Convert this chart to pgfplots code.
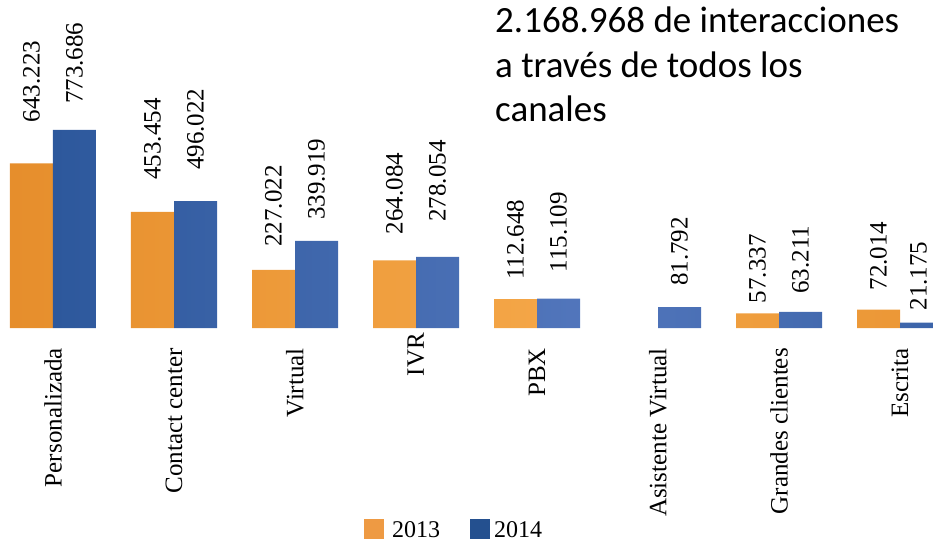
\documentclass[border=0pt]{standalone}
\usepackage{pgfplots}
\pgfplotsset{compat=1.18}
\usepackage{pgfplotstable}
\usepackage{fontspec}
\setmainfont{Liberation Serif}
\newfontfamily\calibri{Carlito}

\definecolor{oD}{HTML}{744219}
\definecolor{oQ}{HTML}{BB7027}
\definecolor{oM}{HTML}{E68E2C}
\definecolor{oL}{HTML}{F4A647}
\definecolor{oR}{HTML}{CF812C}
\definecolor{bD}{HTML}{0A2450}
\definecolor{bQ}{HTML}{1B3F7A}
\definecolor{bM}{HTML}{2D589C}
\definecolor{bL}{HTML}{5276BC}
\definecolor{bR}{HTML}{1D4584}
\definecolor{legO}{HTML}{EE9A43}
\definecolor{legB}{HTML}{24508F}

\pgfdeclarehorizontalshading{obar}{100bp}{color(0bp)=(oD); color(10bp)=(oQ); color(25bp)=(oM); color(55bp)=(oL); color(88bp)=(oM); color(100bp)=(oR)}
\pgfdeclarehorizontalshading{bbar}{100bp}{color(0bp)=(bD); color(10bp)=(bQ); color(25bp)=(bM); color(55bp)=(bL); color(88bp)=(bM); color(100bp)=(bR)}

\pgfplotstableread{
x y lab gap xs
0 643.223 643.223 41 0
1 453.454 453.454 32 0
2 227.022 227.022 23 0
3 264.084 264.084 26 0
4 112.648 112.648 19 0
6 57.337 57.337 10 0
7 72.014 72.014 19 0
}\dataA

\pgfplotstableread{
x y lab gap xs
0 773.686 773.686 26 0
1 496.022 496.022 31 0
2 339.919 339.919 21 0
3 278.054 278.054 35 0
4 115.109 115.109 26 0
5 81.792 81.792 21 0
6 63.211 63.211 18 0
7 21.175 21.175 12 -3
}\dataB

\begin{document}
\begin{tikzpicture}
\path[use as bounding box] (0bp,-214bp) rectangle (933bp,328bp);
\begin{axis}[
  at={(0bp,0bp)}, anchor=south west,
  x=121bp, y=0.256bp,
  xmin=-0.438, xmax=7.273,
  ymin=0, ymax=1281.25,
  ybar=0pt, bar width=43bp,
  axis line style={draw=none},
  tick style={draw=none},
  major tick length=0pt,
  ytick=\empty,
  xtick={0,...,7},
  xticklabels={Personalizada, Contact center, Virtual, {IVR\hspace*{-15bp}}, PBX, Asistente Virtual, Grandes clientes, Escrita},
  xticklabel style={rotate=90, anchor=east, inner sep=0pt, font=\fontsize{25bp}{30bp}\selectfont},
  xticklabel shift=20bp,
  point meta=explicit symbolic,
  nodes near coords,
  visualization depends on={\thisrow{gap} \as \gap},
  visualization depends on={\thisrow{xs} \as \xs},
  every node near coord/.append style={font=\fontsize{25bp}{30bp}\selectfont, inner sep=0pt, yshift=\gap bp, xshift=\xs bp, rotate=90, anchor=west, text=black},
  legend style={at={(0.4866,-0.616)}, anchor=center, draw=none, fill=none,
    font=\fontsize{24bp}{28bp}\selectfont,
    /tikz/every even column/.append style={column sep=28bp}},
  legend columns=2,
]
\addplot[draw=none, shade, shading=obar,
  legend image code/.code={\path (0bp,0bp) -- (26bp,0bp);
    \pgfsetfillcolor{legO}\pgfpathrectangle{\pgfpoint{0bp}{-8bp}}{\pgfpoint{20bp}{20bp}}\pgfusepath{fill}}]
  table[x=x, y=y, meta=lab] {\dataA};
\addplot[draw=none, shade, shading=bbar,
  legend image code/.code={\path (0bp,0bp) -- (22bp,0bp);
    \pgfsetfillcolor{legB}\pgfpathrectangle{\pgfpoint{0bp}{-8bp}}{\pgfpoint{20bp}{20bp}}\pgfusepath{fill}}]
  table[x=x, y=y, meta=lab] {\dataB};
\legend{2013, 2014}
\end{axis}
\node[anchor=base west, inner sep=0pt, font=\calibri\fontsize{37bp}{44bp}\selectfont] at (495bp,295bp) {2.168.968 de interacciones};
\node[anchor=base west, inner sep=0pt, font=\calibri\fontsize{37bp}{44bp}\selectfont] at (495bp,250.5bp) {a través de todos los};
\node[anchor=base west, inner sep=0pt, font=\calibri\fontsize{37bp}{44bp}\selectfont] at (495bp,206bp) {canales};
\end{tikzpicture}
\end{document}
